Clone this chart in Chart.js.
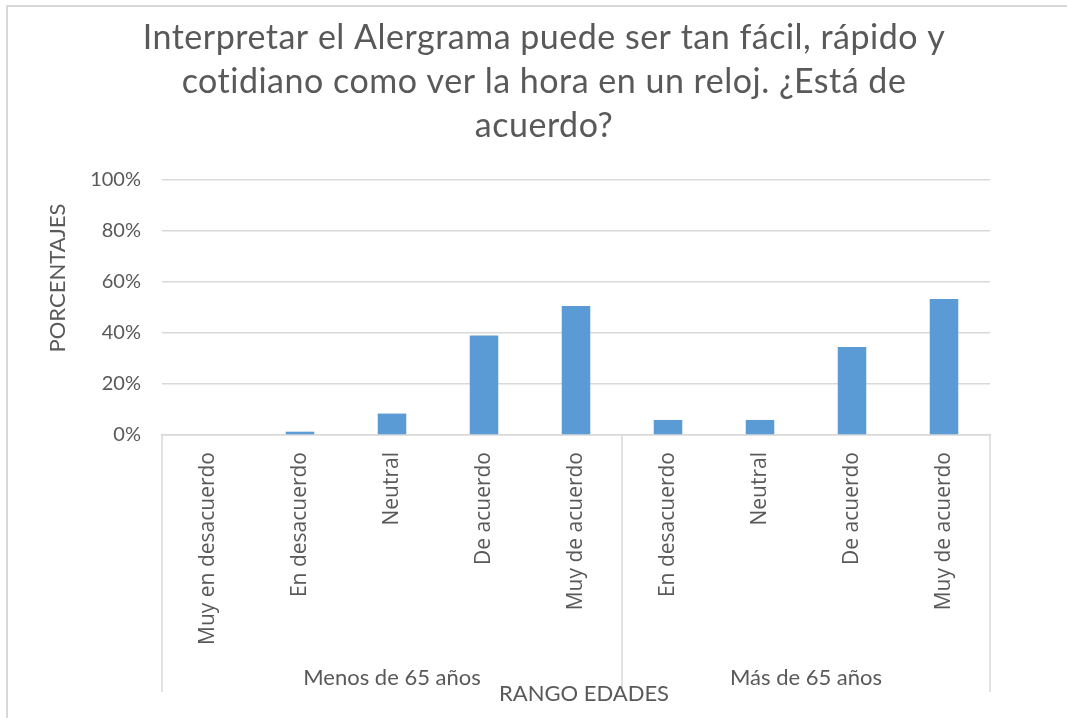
<!DOCTYPE html>
<html><head><meta charset="utf-8">
<script src="https://cdn.jsdelivr.net/npm/chart.js@4/dist/chart.umd.min.js"></script>
<style>html,body{margin:0;padding:0;background:#fff}#wrap{width:1067px;height:718px;position:relative}</style>
</head><body><div id="wrap"><canvas id="c" width="1067" height="718"></canvas></div>
<script>
const categories = ['Muy en desacuerdo','En desacuerdo','Neutral','De acuerdo','Muy de acuerdo','En desacuerdo','Neutral','De acuerdo','Muy de acuerdo'];
const values = [0, 1.3, 8.4, 39.0, 50.6, 5.9, 5.9, 34.5, 53.3];
const groups = ['Menos de 65 años','Más de 65 años'];
const groupSizes = [5, 4];
const yTicks = [0, 20, 40, 60, 80, 100];
const titleLines = ['Interpretar el Alergrama puede ser tan fácil, rápido y','cotidiano como ver la hora en un reloj. ¿Está de','acuerdo?'];
const xTitle = 'RANGO EDADES';
const yTitle = 'PORCENTAJES';

const GRID = '#d9d9d9';
const TXT = '#595959';

const decoPlugin = {
  id: 'deco',
  beforeDraw(chart) {
    const ctx = chart.ctx;
    ctx.save();
    ctx.strokeStyle = GRID; ctx.lineWidth = 2;
    ctx.beginPath();
    ctx.moveTo(7, 718); ctx.lineTo(7, 6); ctx.lineTo(1067, 6);
    ctx.stroke();
    ctx.restore();
  },
  afterDraw(chart) {
    const x = chart.scales.x, ctx = chart.ctx;
    ctx.save();
    ctx.fillStyle = TXT;
    ctx.textAlign = 'center'; ctx.textBaseline = 'middle';
    ctx.save();
    if ('letterSpacing' in ctx) ctx.letterSpacing = '0.5px';
    ctx.font = '34px Lato';
    titleLines.forEach((t, i) => ctx.fillText(t, 544, 38 + i * 44));
    ctx.restore();
    ctx.save();
    ctx.translate(58, 278);
    ctx.rotate(-Math.PI / 2);
    ctx.font = '22px Lato';
    ctx.fillText(yTitle, 0, 0);
    ctx.restore();
    ctx.strokeStyle = GRID; ctx.lineWidth = 1.5;
    let idx = 0;
    const bounds = [x.left];
    groupSizes.forEach(n => { idx += n; bounds.push(idx >= categories.length ? x.right : (x.getPixelForValue(idx - 1) + x.getPixelForValue(idx)) / 2); });
    bounds.forEach(b => { ctx.beginPath(); ctx.moveTo(b, x.top); ctx.lineTo(b, 692); ctx.stroke(); });
    ctx.font = '22px Lato';
    groups.forEach((g, i) => ctx.fillText(g, (bounds[i] + bounds[i + 1]) / 2, 678));
    ctx.fillText(xTitle, 584, 694);
    ctx.restore();
  }
};

new Chart(document.getElementById('c'), {
  type: 'bar',
  data: { labels: categories, datasets: [{ data: values, backgroundColor: '#5B9BD5', borderWidth: 0, categoryPercentage: 1, barPercentage: 0.31 }] },
  options: {
    responsive: false, animation: false,
    layout: { padding: { left: 30, right: 77, top: 180, bottom: 0 } },
    plugins: { legend: { display: false }, tooltip: { enabled: false }, title: { display: false } },
    scales: {
      x: {
        grid: { display: false },
        border: { display: true, color: GRID, width: 1.5 },
        ticks: { autoSkip: false, minRotation: 90, maxRotation: 90, padding: 9, color: TXT, font: { family: 'Open Sans', size: 21 } },
        afterFit(s) { s.height = 283; }
      },
      y: {
        min: 0, max: 100,
        afterBuildTicks(s) { s.ticks = yTicks.map(v => ({ value: v })); },
        grid: { color: GRID, lineWidth: 1.5, drawTicks: false },
        border: { display: false },
        ticks: { padding: 21, color: TXT, font: { family: 'Lato', size: 20 }, callback: v => v + '%' },
        afterFit(s) { s.width = 132; }
      }
    }
  },
  plugins: [decoPlugin]
});
</script></body></html>
